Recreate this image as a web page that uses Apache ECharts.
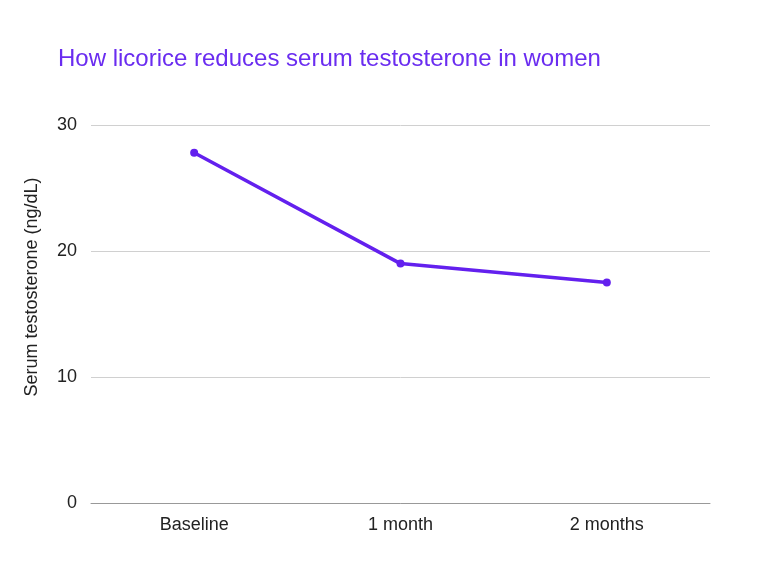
<!DOCTYPE html>

<head>
    <meta charset="utf-8">
    <title>Licorice</title>
    <script src="https://cdn.jsdelivr.net/npm/echarts@6/dist/echarts.min.js"></script>
    <style>
        body { margin: 0; background: #fff; }
        #chart { width: 768px; height: 576px; }
    </style>
</head>

<body>
    <div id="chart"></div>

    <script>
        var categories = ['Baseline', '1 month', '2 months'];
        var testosterone = [27.8, 19.0, 17.5];
        var yTicks = [0, 10, 20, 30];

        var purple = '#6320ee';
        var chart = echarts.init(document.getElementById('chart'));
        chart.setOption({
            animation: false,
            textStyle: { fontFamily: 'Liberation Sans, Arial, sans-serif' },
            title: {
                text: 'How licorice reduces serum testosterone in women',
                left: 53,
                top: 42,
                textStyle: {
                    color: '#6a2cf0',
                    fontSize: 24,
                    fontWeight: 'normal',
                    fontFamily: 'Liberation Sans, Arial, sans-serif'
                }
            },
            grid: {
                left: 91,
                right: 58,
                top: 125,
                bottom: 73
            },
            xAxis: {
                type: 'category',
                data: categories,
                boundaryGap: true,
                axisLine: { lineStyle: { color: '#999999' } },
                axisTick: { show: false },
                axisLabel: { color: '#222222', fontSize: 18, margin: 13 }
            },
            yAxis: {
                type: 'value',
                min: yTicks[0],
                max: yTicks[yTicks.length - 1],
                interval: 10,
                name: 'Serum testosterone (ng/dL)',
                nameLocation: 'middle',
                nameGap: 50,
                nameTextStyle: { color: '#222222', fontSize: 18, padding: [0, 0, 0, 54] },
                axisLine: { show: false },
                axisTick: { show: false },
                axisLabel: { color: '#222222', fontSize: 18, margin: 14, padding: [3, 0, 0, 0] },
                splitLine: { lineStyle: { color: '#d0d0d0' } }
            },
            series: [{
                type: 'line',
                data: testosterone,
                symbol: 'circle',
                symbolSize: 8,
                lineStyle: { color: purple, width: 3.5 },
                itemStyle: { color: purple }
            }]
        });
    </script>

</body>
